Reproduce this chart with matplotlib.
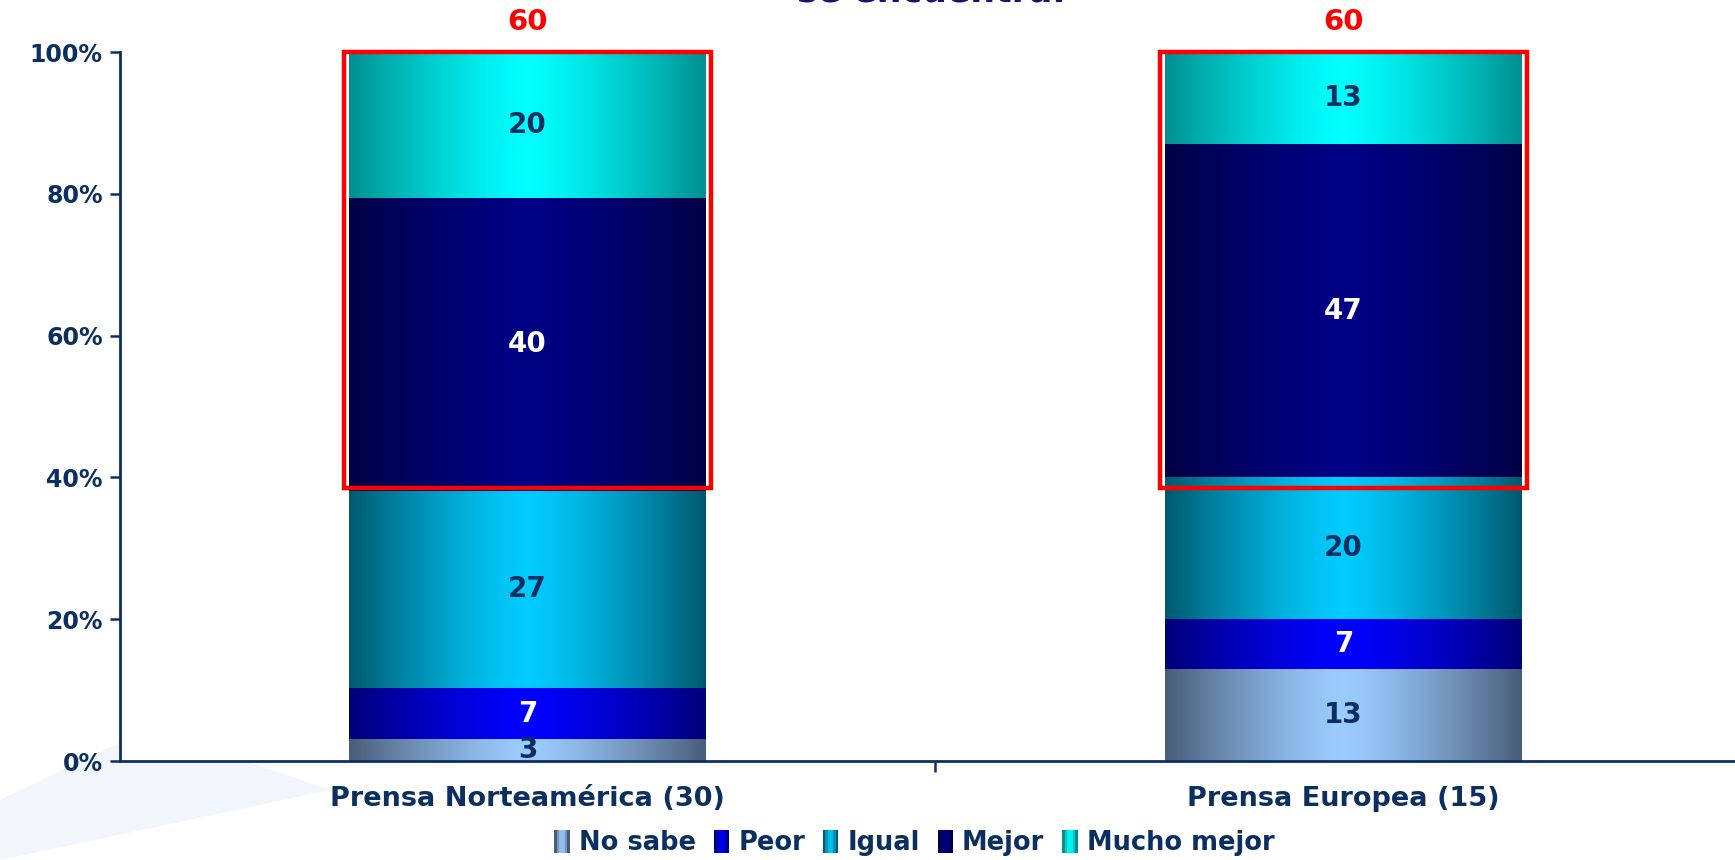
import numpy as np
import matplotlib.pyplot as plt
from matplotlib.patches import Rectangle, Patch, Polygon
from matplotlib.legend_handler import HandlerBase

categories = ["Prensa Norteamérica (30)", "Prensa Europea (15)"]
series = ["No sabe", "Peor", "Igual", "Mejor", "Mucho mejor"]
values = {
    "No sabe":     [3, 13],
    "Peor":        [7, 7],
    "Igual":       [27, 20],
    "Mejor":       [40, 47],
    "Mucho mejor": [20, 13],
}
box_totals = [60, 60]          # Mejor + Mucho mejor
box_bottom = [38.5, 38.5]      # lower edge of the red boxes (%)
yticks = [0, 20, 40, 60, 80, 100]

# (edge colour, centre colour, label colour)
styles = {
    "No sabe":     ("#4a5d78", "#9cccff", "#0b3060"),
    "Peor":        ("#00007a", "#0000ff", "white"),
    "Igual":       ("#005a6e", "#00ccff", "#0b3060"),
    "Mejor":       ("#000045", "#000085", "white"),
    "Mucho mejor": ("#009090", "#00ffff", "#0b3060"),
}
navy = "#0b3060"


def gradient(edge, centre, n=256):
    e = np.array(plt.matplotlib.colors.to_rgb(edge))
    c = np.array(plt.matplotlib.colors.to_rgb(centre))
    x = np.linspace(0, 1, n)
    t = np.clip(np.abs(x - 0.5) * 2, 0, 1) ** 1.3
    return (c[None, :] + (e - c)[None, :] * t[:, None])[None, :, :]


class GradHandler(HandlerBase):
    def create_artists(self, legend, orig_handle, xdescent, ydescent,
                       width, height, fontsize, trans):
        edge, centre, _ = styles[orig_handle.get_label()]
        img = gradient(edge, centre, 6)[0]
        arts = []
        w = width / len(img)
        for i, col in enumerate(img):
            arts.append(Rectangle((-xdescent + i * w, -ydescent), w * 1.05, height,
                                  facecolor=col, edgecolor="none", transform=trans))
        return arts


fig = plt.figure(figsize=(17.35, 8.6), dpi=100)

# faint watermark swoosh bottom-left (behind the axes)
W, H = 1735, 860
pts = [(0, 800), (150, 728), (330, 790), (0, 860)]
wm = Polygon([(px / W, 1 - py / H) for px, py in pts], closed=True,
             facecolor="#f1f6fc", edgecolor="none", transform=fig.transFigure)
wm.set_zorder(-5)
fig.add_artist(wm)

ax = fig.add_axes([0.0689, 0.1151, 0.9311, 0.8244])
ax.set_zorder(1)

raw = np.array([values[s] for s in series], dtype=float)
pct = raw / raw.sum(axis=0) * 100
x = np.arange(len(categories))
width = 0.4375

bottom = np.zeros(len(categories))
for si, s in enumerate(series):
    edge, centre, tcol = styles[s]
    bars = ax.bar(x, pct[si], width, bottom=bottom, color="none", edgecolor="none")
    grad = gradient(edge, centre)
    for bi, b in enumerate(bars):
        x0, y0 = b.get_x(), b.get_y()
        ax.imshow(grad, extent=[x0, x0 + b.get_width(), y0, y0 + b.get_height()],
                  aspect="auto", zorder=2, interpolation="bilinear")
        yc = y0 + b.get_height() / 2
        ax.text(b.get_x() + b.get_width() / 2, yc, str(values[s][bi]),
                ha="center", va="center", fontsize=20, fontweight="bold",
                color=tcol, zorder=4)
    bottom += pct[si]

# red highlight boxes
for i in range(len(categories)):
    pad = 0.006
    ax.add_patch(Rectangle((x[i] - width / 2 - pad, box_bottom[i]), width + 2 * pad,
                           100 - box_bottom[i], fill=False, edgecolor="#ff0000",
                           linewidth=3.2, zorder=5, clip_on=False))
    ax.text(x[i], 104.3, str(box_totals[i]), ha="center", va="center",
            fontsize=21, fontweight="bold", color="#ff0000", clip_on=False)

ax.set_xlim(-0.5, 1.48)
ax.set_ylim(0, 100)
ax.set_yticks(yticks)
ax.set_yticklabels([f"{v}%" for v in yticks], fontsize=17, fontweight="bold", color=navy)
ax.set_xticks([0.5])
ax.set_xticklabels([""])
for i, c in enumerate(categories):
    ax.text(x[i], -5.3, c, ha="center", va="center", fontsize=19.5, fontweight="bold",
            color=navy)
ax.tick_params(axis="y", length=7, width=1.8, color=navy, pad=5)
ax.tick_params(axis="x", length=8, width=1.8, color=navy)
for sp in ["top", "right"]:
    ax.spines[sp].set_visible(False)
for sp in ["left", "bottom"]:
    ax.spines[sp].set_color(navy)
    ax.spines[sp].set_linewidth(2)

# cropped title at the very top
fig.text(0.537, 0.9988, "se encuentra.", ha="center", va="baseline",
         fontsize=25, fontweight="bold", color="#14146e")

handles = [Patch(label=s) for s in series]
fig.legend(handles=handles, loc="center", bbox_to_anchor=(0.527, 0.02),
           ncol=5, frameon=False, handler_map={Patch: GradHandler()},
           handlelength=0.6, handleheight=1.0, handletextpad=0.35, columnspacing=0.7,
           prop={"size": 18.5, "weight": "bold"}, labelcolor=navy)

fig.savefig("out.png", dpi=100)
